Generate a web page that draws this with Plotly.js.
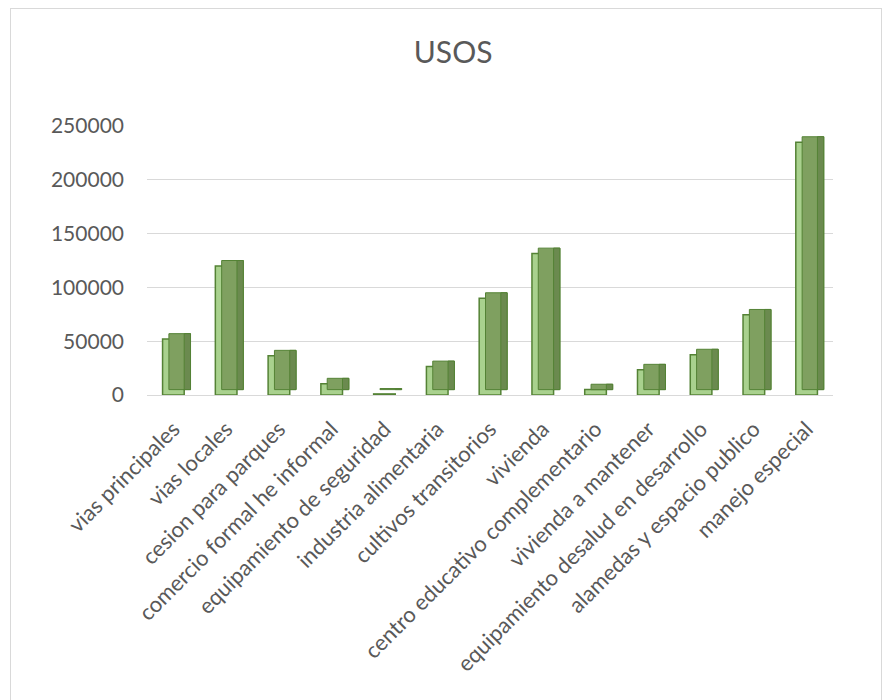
<!DOCTYPE html>
<html>
<head>
<meta charset="utf-8">
<script src="https://cdn.plot.ly/plotly-3.0.1.min.js"></script>
<style>
  html, body { margin: 0; padding: 0; background: #fff; }
  #wrap { position: relative; width: 885px; height: 700px; }
  #chart { width: 885px; height: 700px; }
  #frame { position: absolute; left: 10px; top: 8px; width: 872px; height: 700px;
           border: 1px solid #d9d9d9; box-sizing: border-box; pointer-events: none; }
</style>
</head>
<body>
<div id="wrap"><div id="chart"></div><div id="frame"></div></div>
<script>
const categories = [
  "vias principales",
  "vias locales",
  "cesion para parques",
  "comercio formal he informal",
  "equipamiento de seguridad",
  "industria alimentaria",
  "cultivos transitorios",
  "vivienda",
  "centro educativo complementario",
  "vivienda a mantener",
  "equipamiento desalud en desarrollo",
  "alamedas y espacio publico",
  "manejo especial"
];
const usos = [52000, 120000, 36500, 10500, 1000, 26500, 90000, 131500, 5000, 23500, 37500, 74500, 235000];
const yTicks = [0, 50000, 100000, 150000, 200000, 250000];
const titleText = "USOS";

const FONT = "Lato, 'Open Sans', sans-serif";
const TEXT = "#595959";

// depth faces (drawn behind the front face on a slightly raised overlaid axis)
const topFace = {
  type: "bar", x: categories, y: usos, yaxis: "y2",
  width: 0.41, offset: -0.085,
  marker: { color: "#7FA060", line: { color: "#548235", width: 1 } },
  hoverinfo: "skip", showlegend: false
};
const sideFace = {
  type: "bar", x: categories, y: usos, yaxis: "y2",
  width: 0.12, offset: 0.205,
  marker: { color: "#6B8A4F", line: { color: "#548235", width: 1 } },
  hoverinfo: "skip", showlegend: false
};
const frontFace = {
  type: "bar", x: categories, y: usos,
  width: 0.41, offset: -0.205,
  marker: { color: "#A9D18E", line: { color: "#548235", width: 1.5 } },
  name: "USOS", showlegend: false
};

const layout = {
  width: 885, height: 700,
  paper_bgcolor: "#ffffff", plot_bgcolor: "rgba(0,0,0,0)",
  margin: { l: 147, r: 52, t: 126, b: 305 },
  barmode: "overlay",
  font: { family: FONT, color: TEXT },
  title: {
    text: titleText, font: { family: FONT, size: 30, color: TEXT },
    x: 0.512, xref: "container", xanchor: "center",
    y: 1 - 52 / 700, yref: "container", yanchor: "middle"
  },
  xaxis: {
    type: "category", range: [-0.5, 12.5],
    tickangle: -45, ticks: "", showgrid: false, showline: false, zeroline: false,
    tickfont: { family: FONT, size: 22, color: TEXT },
    ticklabelstandoff: 16
  },
  yaxis: {
    range: [0, 250000], tickvals: yTicks, ticktext: yTicks.map(String),
    showgrid: true, gridcolor: "#D9D9D9", gridwidth: 1,
    zeroline: true, zerolinecolor: "#D9D9D9", zerolinewidth: 1,
    showline: false, ticks: "",
    tickfont: { family: FONT, size: 21, color: TEXT },
    ticklabelstandoff: 22
  },
  yaxis2: {
    overlaying: "y", range: [-5000, 245000], visible: false, showgrid: false
  }
};

Plotly.newPlot("chart", [topFace, sideFace, frontFace], layout, { displayModeBar: false, staticPlot: true });
</script>
</body>
</html>
